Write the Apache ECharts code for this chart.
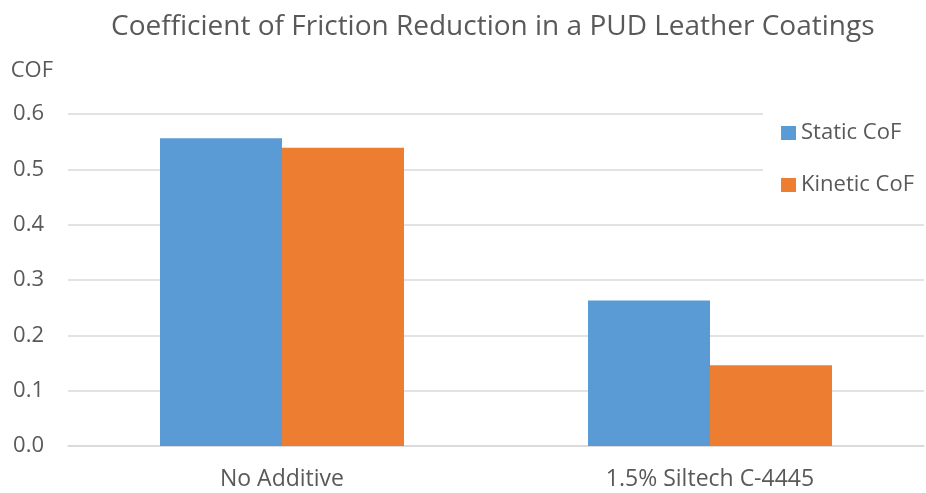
<!DOCTYPE html>
<html>
<head>
<meta charset="utf-8">
<script src="https://cdn.jsdelivr.net/npm/echarts@6/dist/echarts.min.js"></script>
<style>
  html, body { margin: 0; padding: 0; background: #fff; }
  #chart { width: 926px; height: 493px; }
</style>
</head>
<body>
<div id="chart"></div>
<script>
const categories = ["No Additive", "1.5% Siltech C-4445"];
const staticCof = [0.556, 0.263];
const kineticCof = [0.539, 0.146];
const yTicks = [0, 0.1, 0.2, 0.3, 0.4, 0.5, 0.6];

const font = "Open Sans";
const textColor = "#595959";

const chart = echarts.init(document.getElementById("chart"));
chart.setOption({
  animation: false,
  color: ["#5B9BD5", "#ED7D31"],
  title: {
    text: "Coefficient of Friction Reduction in a PUD Leather Coatings",
    left: 106,
    top: 8,
    textStyle: { fontFamily: font, fontSize: 28, fontWeight: "normal", color: textColor }
  },
  legend: {
    orient: "vertical",
    right: 2,
    top: 110,
    icon: "rect",
    backgroundColor: "#fff",
    padding: [12, 10, 12, 18],
    itemWidth: 15,
    itemHeight: 14,
    itemGap: 30,
    textStyle: { fontFamily: font, fontSize: 22, lineHeight: 22, color: textColor },
    data: ["Static CoF", "Kinetic CoF"]
  },
  grid: { left: 68, right: 2, top: 114, bottom: 47 },
  xAxis: {
    type: "category",
    data: categories,
    axisLine: { lineStyle: { color: "#d9d9d9", width: 1.5 } },
    axisTick: { show: false },
    axisLabel: { fontFamily: font, fontSize: 23, color: textColor, margin: 22 }
  },
  yAxis: {
    type: "value",
    min: yTicks[0],
    max: yTicks[yTicks.length - 1],
    interval: 0.1,
    name: "COF",
    nameLocation: "end",
    nameGap: 32,
    nameTextStyle: { fontFamily: font, fontSize: 22, color: textColor, align: "right", padding: [0, 15, 0, 0] },
    axisLine: { show: false },
    axisTick: { show: false },
    splitLine: { lineStyle: { color: "#d9d9d9", width: 1.5 } },
    axisLabel: {
      fontFamily: font, fontSize: 22, color: textColor, margin: 24,
      formatter: v => v.toFixed(1)
    }
  },
  series: [
    { name: "Static CoF", type: "bar", data: staticCof, barWidth: 122, barGap: "0%" },
    { name: "Kinetic CoF", type: "bar", data: kineticCof, barWidth: 122, barGap: "0%" }
  ]
});
</script>
</body>
</html>
